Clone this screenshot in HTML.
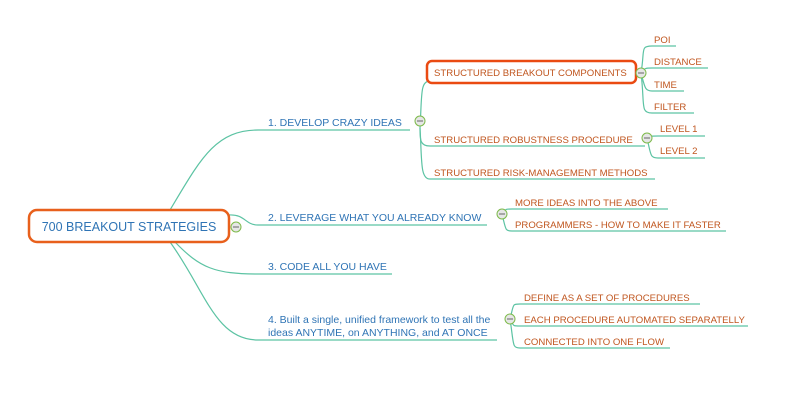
<!DOCTYPE html>
<html><head><meta charset="utf-8"><style>
html,body{margin:0;padding:0;background:#fff;}
svg{display:block;}
text{font-family:"Liberation Sans",sans-serif;}
.b{fill:#2f74b5;font-size:10.5px;}
.o{fill:#c0561f;font-size:9.6px;}
.l{stroke:#5cc3a3;stroke-width:1.2;fill:none;}
</style></head><body>
<svg width="800" height="404" viewBox="0 0 800 404">
<g class="l">
<path d="M170 210 C200 160 215 130 258 130 L410 130"/>
<path d="M229 215 C245 214 245 225 258 225 L487 225"/>
<path d="M175 242 C200 268 215 274 258 274 L392 274"/>
<path d="M170 242 C205 290 215 340 258 340 L497 340"/>
<path d="M420 128 C422 95 420 81 430 81"/>
<path d="M420 128 C420 140 420 146 430 146 L645 146"/>
<path d="M420 128 C422 160 420 179 430 179 L655 179"/>
<path d="M641 73 C645 50 640 46 652 46 L676 46"/>
<path d="M641 73 C645 68 645 68 652 68 L708 68"/>
<path d="M641 73 C645 88 645 91 652 91 L684 91"/>
<path d="M641 73 C645 105 640 113 652 113 L694 113"/>
<path d="M647 138 C651 136 650 136 658 136 L705 136"/>
<path d="M647 138 C651 155 650 158 658 158 L705 158"/>
<path d="M502 214 C506 209 505 209 512 209 L668 209"/>
<path d="M502 214 C506 230 505 231 512 231 L726 231"/>
<path d="M510 319 C514 304 512 304 520 304 L700 304"/>
<path d="M510 319 C514 326 512 326 520 326 L748 326"/>
<path d="M510 319 C514 345 512 348 520 348 L670 348"/>
</g>
<rect x="29" y="210" width="200" height="32" rx="8" fill="#fff" stroke="#e8601c" stroke-width="2.5"/>
<text x="129" y="231" text-anchor="middle" fill="#2f74b5" font-size="12.5">700 BREAKOUT STRATEGIES</text>
<rect x="427" y="61" width="209" height="22" rx="5" fill="#fff" stroke="#ea4a12" stroke-width="2.5"/>
<text class="b" x="268" y="126">1. DEVELOP CRAZY IDEAS</text>
<text class="b" x="268" y="221">2. LEVERAGE WHAT YOU ALREADY KNOW</text>
<text class="b" x="268" y="270">3. CODE ALL YOU HAVE</text>
<text class="b" x="268" y="323">4. Built a single, unified framework to test all the</text>
<text class="b" x="268" y="336">ideas ANYTIME, on ANYTHING, and AT ONCE</text>
<text class="o" x="434" y="76">STRUCTURED BREAKOUT COMPONENTS</text>
<text class="o" x="434" y="143">STRUCTURED ROBUSTNESS PROCEDURE</text>
<text class="o" x="434" y="176">STRUCTURED RISK-MANAGEMENT METHODS</text>
<text class="o" x="654" y="43">POI</text>
<text class="o" x="654" y="65">DISTANCE</text>
<text class="o" x="654" y="88">TIME</text>
<text class="o" x="654" y="110">FILTER</text>
<text class="o" x="660" y="132">LEVEL 1</text>
<text class="o" x="660" y="154">LEVEL 2</text>
<text class="o" x="515" y="206">MORE IDEAS INTO THE ABOVE</text>
<text class="o" x="515" y="228">PROGRAMMERS - HOW TO MAKE IT FASTER</text>
<text class="o" x="524" y="301">DEFINE AS A SET OF PROCEDURES</text>
<text class="o" x="524" y="323">EACH PROCEDURE AUTOMATED SEPARATELLY</text>
<text class="o" x="524" y="345">CONNECTED INTO ONE FLOW</text>
<g fill="#e6e6e6" stroke="#7dba4a" stroke-width="1">
<circle cx="236" cy="227" r="5"/><circle cx="420" cy="121" r="5"/><circle cx="502" cy="214" r="5"/>
<circle cx="510" cy="319" r="5"/><circle cx="641" cy="73" r="5"/><circle cx="647" cy="138" r="5"/>
</g>
<g stroke="#666" stroke-width="1">
<line x1="233" y1="227" x2="239" y2="227"/><line x1="417" y1="121" x2="423" y2="121"/>
<line x1="499" y1="214" x2="505" y2="214"/><line x1="507" y1="319" x2="513" y2="319"/>
<line x1="638" y1="73" x2="644" y2="73"/><line x1="644" y1="138" x2="650" y2="138"/>
</g>
</svg>
</body></html>
